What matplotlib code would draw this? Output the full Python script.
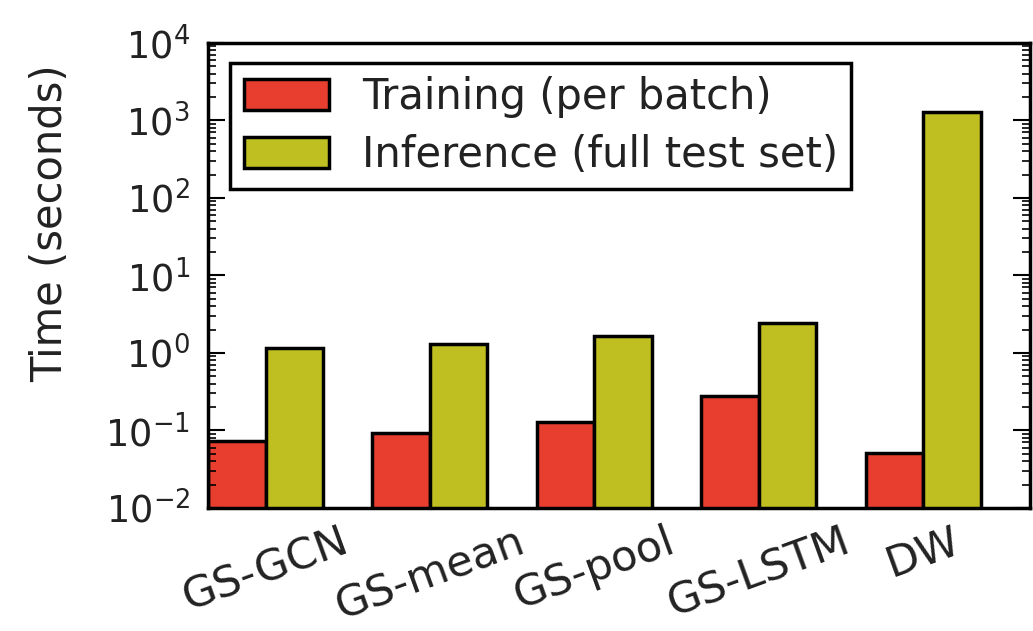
import numpy as np
import matplotlib
matplotlib.use("Agg")
import matplotlib.pyplot as plt
from matplotlib.ticker import LogLocator

methods = ["GS-GCN", "GS-mean", "GS-pool", "GS-LSTM", "DW"]
training = [0.073, 0.093, 0.13, 0.28, 0.051]
inference = [1.16, 1.31, 1.66, 2.44, 1290]

red = "#e83e2f"
olive = "#bfbf22"
width = 0.35

plt.rcParams["font.family"] = "DejaVu Sans"
plt.rcParams["font.size"] = 27

fig = plt.figure(figsize=(10.33, 6.31), dpi=100)
ax = fig.add_axes([0.2014, 0.195, 0.7956, 0.737])

ind = np.arange(len(methods))
ax.bar(ind, training, width, align="edge", color=red, edgecolor="black",
       linewidth=2.5, label="Training (per batch)")
ax.bar(ind + width, inference, width, align="edge", color=olive, edgecolor="black",
       linewidth=2.5, label="Inference (full test set)")

ax.set_yscale("log")
ax.set_ylim(1e-2, 1e4)
ax.set_xlim(0, len(methods))
ax.yaxis.set_major_locator(LogLocator(base=10, numticks=10))
ax.yaxis.set_minor_locator(LogLocator(base=10, subs=np.arange(2, 10), numticks=10))

ax.set_xticks(ind + width)
ax.set_xticklabels(methods, rotation=20, fontsize=31, color="#222222")
ax.tick_params(axis="x", length=0, pad=9)
ax.tick_params(axis="y", which="major", direction="in", length=12, width=1.5,
               right=True, labelsize=26.5, labelcolor="#222222", pad=13)
ax.tick_params(axis="y", which="minor", direction="in", length=6, width=1.2, right=True)

for s in ax.spines.values():
    s.set_linewidth(2.5)

ax.set_ylabel("Time (seconds)", fontsize=30, color="#222222")
ax.yaxis.set_label_coords(-0.167, 0.613)

leg = ax.legend(loc="upper left", fontsize=30, fancybox=False, framealpha=1,
                borderpad=0.32, handlelength=2.04, handleheight=0.77,
                handletextpad=0.8, labelspacing=0.38,
                bbox_to_anchor=(0.027, 0.957), borderaxespad=0)
leg.get_frame().set_edgecolor("black")
leg.get_frame().set_linewidth(2.5)
for t in leg.get_texts():
    t.set_color("#222222")

fig.savefig("out.png", dpi=100)
